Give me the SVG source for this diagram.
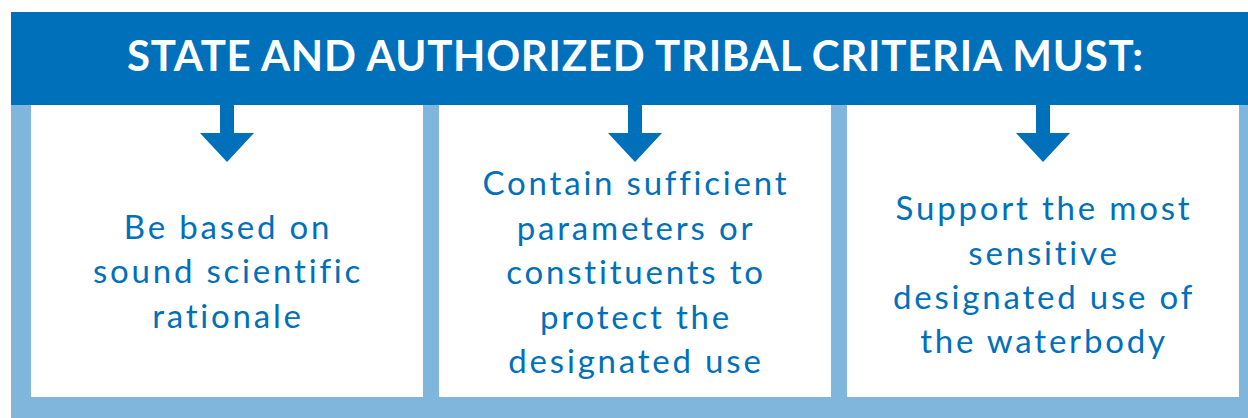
<svg xmlns="http://www.w3.org/2000/svg" width="1248" height="418" viewBox="0 0 1248 418">
  <style>
    .frame { fill: #80B5DC; }
    .banner { fill: #0070BA; }
    .box { fill: #FFFFFF; }
    .title { font-family: Lato, "Noto Sans", "Liberation Sans", sans-serif; font-weight: 700; font-size: 42px; fill: #FFFFFF; text-anchor: middle; }
    .body { font-family: Lato, "Noto Sans", "Liberation Sans", sans-serif; font-weight: 400; font-size: 33px; letter-spacing: 2.8px; fill: #0070BA; text-anchor: middle; }
    .arrow { fill: #0070BA; }
  </style>
  <defs>
    <path id="arrowShape" d="M -7 0 L 7 0 L 7 28 L 27 28 L 0 57 L -27 28 L -7 28 Z"/>
  </defs>
  <rect class="frame" x="11" y="12" width="1237" height="406"/>
  <g id="header">
    <rect class="banner" x="11" y="12" width="1237" height="93"/>
    <text class="title" x="635" y="71" textLength="1016" lengthAdjust="spacing">STATE AND AUTHORIZED TRIBAL CRITERIA MUST:</text>
  </g>
  <g id="box1">
    <rect class="box" x="31" y="105" width="392" height="292"/>
    <text class="body" x="228" y="239">Be based on</text>
    <text class="body" x="228" y="283">sound scientific</text>
    <text class="body" x="228" y="328">rationale</text>
  </g>
  <g id="box2">
    <rect class="box" x="439" y="105" width="392" height="292"/>
    <text class="body" x="636" y="195">Contain sufficient</text>
    <text class="body" x="636" y="240">parameters or</text>
    <text class="body" x="636" y="284">constituents to</text>
    <text class="body" x="636" y="329">protect the</text>
    <text class="body" x="636" y="373">designated use</text>
  </g>
  <g id="box3">
    <rect class="box" x="847" y="105" width="392" height="292"/>
    <text class="body" x="1044" y="220">Support the most</text>
    <text class="body" x="1044" y="265">sensitive</text>
    <text class="body" x="1044" y="309">designated use of</text>
    <text class="body" x="1044" y="353">the waterbody</text>
  </g>
  <g id="connectors">
    <use href="#arrowShape" class="arrow" x="227" y="105"/>
    <use href="#arrowShape" class="arrow" x="635" y="105"/>
    <use href="#arrowShape" class="arrow" x="1043" y="105"/>
  </g>
</svg>
